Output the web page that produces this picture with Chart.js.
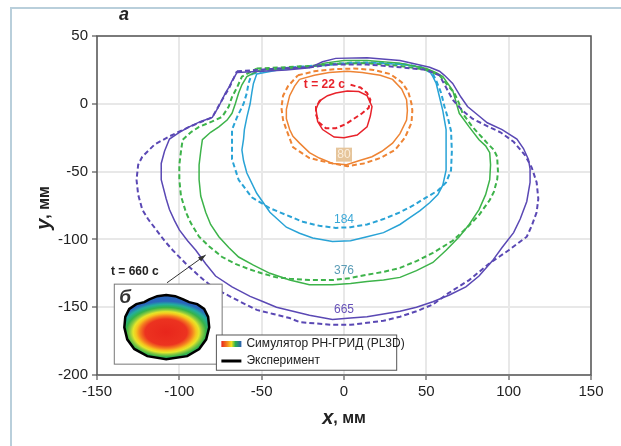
<!DOCTYPE html>
<html>
<head>
<meta charset="utf-8">
<script src="https://cdn.jsdelivr.net/npm/chart.js@4.4.1/dist/chart.umd.min.js"></script>
<style>
  html, body { margin: 0; padding: 0; background: #fff; }
  #wrap { position: relative; width: 621px; height: 446px; }
  #frame {
    position: absolute; left: 10px; top: 7px; right: 0; bottom: 0;
    border-left: 2px solid #b9cfdb; border-top: 2px solid #b9cfdb;
    pointer-events: none;
  }
</style>
</head>
<body>
<div id="wrap">
  <canvas id="contourChart" width="621" height="446"></canvas>
  <div id="frame"></div>
</div>
<script>
// contour outlines, [x mm, y mm]
const exp22 = [[-17,-4],[-15,2],[-10,6],[-5,8],[2,9.5],[9,9],[14,6],[17,-2],[16,-9],[14,-17],[8,-23],[0,-25],[-6,-24.5],[-13,-19],[-16,-13],[-17,-4]];
const sim22 = [[4,14],[10,12],[14,8],[16,3],[15,-3],[11,-7],[6,-11],[1,-15],[-5,-18],[-11,-18],[-15,-14],[-17,-8],[-17,-2],[-14,3]];

const exp80 = [[-27,18],[-18,21],[-9,23],[2,24],[11,23],[22,21],[29.5,18],[35,11],[38,3],[38.5,-5],[38,-12],[34,-22],[29.5,-29],[23,-35],[17,-39],[9,-42],[1.5,-45],[-7,-44],[-15,-40],[-21,-36],[-27,-29],[-31,-24],[-33,-19],[-35,-11],[-35,-4],[-33,6],[-30,13],[-27,18]];
const sim80 = [[-28,21],[-18,24],[-6,25.5],[6,26],[18,25],[28,22],[35,16],[39,9],[41,0],[41.5,-5],[41,-14],[37,-25],[31,-34],[22,-40],[12,-44],[2,-46],[-9,-43.5],[-21,-40],[-31,-32],[-35,-19],[-37,-12],[-38,-3],[-37,6],[-34,13],[-28,21]];

const exp184 = [[-53,22],[-40,25],[-25,27],[-10,28.5],[5,30],[20,30],[35,29],[47,27],[52,24],[54,20],[56,15],[58,5],[60,-5],[62,-19],[62,-35],[62,-49],[60,-60],[57,-67],[52,-73],[46,-79],[40,-84],[34,-89],[24,-95],[14,-98],[4,-101],[-7,-101.5],[-19,-99],[-27,-95.5],[-35,-91],[-45,-80],[-53,-66],[-59,-51],[-61,-42],[-62,-34],[-61,-26],[-60.5,-19],[-59,-10],[-57,0],[-56,8],[-55,15],[-53,22]];
const sim184 = [[-56,22],[-45,25.5],[-25,27.5],[-10,29],[5,30.5],[20,30.5],[35,29.5],[47,27],[54,22],[56,17],[59,8],[61,-2],[63,-10],[65,-20],[65.5,-35],[65,-49],[62,-58],[57,-64],[50,-69],[42,-75],[34,-80],[24,-85],[14,-89],[4,-91],[-5,-91.5],[-15,-90],[-25,-87],[-35,-82],[-45,-77],[-56,-69],[-64,-56],[-68,-41],[-68,-30],[-68,-19],[-65,-10],[-61,0],[-59,8],[-58,15],[-56,22]];

const exp376 = [[-51,25],[-35,26],[-20,27],[-12,30],[0,32],[14,32],[34,30],[50,26],[56,23],[60,20],[66,10],[70,-7],[76,-17],[82,-26.5],[86,-31],[88.5,-36],[89,-45],[88.5,-56],[86,-67],[82,-78],[76,-89],[70,-98],[62,-108],[54,-117],[44,-123],[34,-128],[24,-130],[14,-131],[4,-132.5],[-7,-133.5],[-21,-133.5],[-33,-130],[-45,-125],[-55,-119],[-64,-113],[-70,-106],[-76,-98],[-81,-89],[-84,-80],[-87,-68],[-88,-56],[-88,-45],[-87,-35],[-86,-26.5],[-81,-21],[-76,-17],[-71,-12],[-68,-7],[-66,0],[-64,8],[-62,14],[-59,20],[-51,25]];
const sim376 = [[-53,26],[-35,27],[-20,28],[-7,29.5],[14,30],[34,28],[50,25],[58,21],[62,15],[67,8],[70,0],[72,-7],[78,-17],[87,-29],[91,-34],[93,-39],[93.5,-50],[93,-56],[91,-65],[88.5,-71],[82,-82],[75,-91],[66,-101],[54,-110],[44,-116],[34,-121],[24,-124],[14,-126],[4,-128.5],[-7,-130],[-21,-130],[-33,-129],[-41,-128],[-50,-125],[-57.5,-122],[-66,-118],[-74,-113],[-82,-105],[-88,-98],[-93,-88],[-96,-80],[-99,-68],[-100,-56],[-100,-45],[-99,-35],[-98,-26.5],[-93,-21],[-88,-17],[-80,-13],[-74,-9.6],[-70,-2],[-68,5],[-65,12],[-62,20],[-53,26]];

const exp665 = [[-65,23],[-50,24],[-35,25],[-21,26.5],[-13,31],[-5,33.5],[14,34],[34,32],[52,27],[58,24],[61,21],[66,15],[71,5],[75,-2],[82,-9],[87,-14],[96,-19],[105,-26],[109,-33],[112,-41],[113,-48],[113,-58],[111,-72],[107,-85],[103,-95],[96,-106],[90,-116],[82,-127],[74,-135],[64,-141],[54,-146],[44,-150],[34,-153],[24,-155],[14,-157],[4,-158],[-7,-159],[-21,-156],[-31,-153],[-41,-150],[-49,-146],[-57,-142],[-68,-135],[-78,-127],[-84,-118],[-90,-108],[-95,-101],[-100,-93],[-103,-86],[-106,-78],[-108,-70],[-111,-56],[-111,-44],[-109,-35],[-106,-26],[-100,-21],[-94,-17],[-87,-13],[-80,-10],[-77,-4],[-74,3],[-72,8],[-70,12],[-68,17],[-65,23]];
const sim665 = [[-65,24],[-40,26],[-20,27],[-7,29],[14,29],[34,27],[50,25],[58,21],[62,12],[66,3],[72,-5],[78,-11],[88,-17],[95,-21],[103,-28],[110,-38],[114,-47],[117,-58],[118,-70],[117,-80],[114,-90],[111,-98],[100,-108],[88,-118],[76,-130],[63,-140],[54,-148],[44,-153],[34,-157],[24,-160],[14,-161.5],[4,-163],[-7,-163],[-17,-162],[-27,-161],[-33,-158],[-43,-155],[-53,-152],[-63,-146],[-74,-139],[-81,-134],[-88,-127],[-96,-118],[-104,-108],[-109,-101],[-114,-93],[-119,-85],[-122.5,-78],[-125,-67],[-126,-56],[-125,-45],[-122.5,-39],[-115,-30],[-106,-24],[-94,-17],[-80,-10],[-74,3],[-70,11],[-65,24]];

const xTicks = [-150, -100, -50, 0, 50, 100, 150];
const yTicks = [-200, -150, -100, -50, 0, 50];

// time labels on the curves: text, x, y
const curveLabels = [
  ["80", 0, -37.5, "#fbeedd", "#e6c59b"],
  ["184", 0, -85.5, "#3aa7d6", null],
  ["376", 0, -123, "#5a9cb6", null],
  ["665", 0, -152, "#6651b8", null]
];

const purple = "#5a48b4", green = "#3db34a", cyan = "#29a3d6", orange = "#ee8434", red = "#e8232b";
const NARROW = "'Liberation Sans Narrow', 'Liberation Sans', Arial, sans-serif";
const SANS = "'Liberation Sans', Arial, sans-serif";

function line(pts, color, dashed) {
  return {
    data: pts.map(p => ({ x: p[0], y: p[1] })),
    showLine: true,
    borderColor: color,
    borderWidth: dashed ? 2 : 1.5,
    borderDash: dashed ? [5, 3] : [],
    pointRadius: 0,
    tension: 0,
    fill: false
  };
}

const overlay = {
  id: "overlay",
  afterDatasetsDraw(chart) {
    const { ctx, chartArea: a, scales: { x, y } } = chart;
    ctx.save();
    // plot frame
    ctx.strokeStyle = "#555";
    ctx.lineWidth = 1.5;
    ctx.strokeRect(a.left, a.top, a.right - a.left, a.bottom - a.top);

    // panel letter
    ctx.fillStyle = "#222";
    ctx.font = "italic bold 18px " + SANS;
    ctx.textAlign = "left";
    ctx.textBaseline = "middle";
    ctx.fillText("a", a.left + 22, a.top - 21);

    // curve labels
    ctx.font = "12px " + SANS;
    ctx.textAlign = "center";
    curveLabels.forEach(([t, vx, vy, col, bg]) => {
      const px = x.getPixelForValue(vx), py = y.getPixelForValue(vy);
      if (bg) {
        ctx.fillStyle = bg;
        ctx.fillRect(px - 8, py - 7, 16, 14);
      }
      ctx.fillStyle = col;
      ctx.fillText(t, px, py);
    });
    ctx.fillStyle = red;
    ctx.font = "bold 12px " + SANS;
    ctx.textAlign = "right";
    ctx.fillText("t = 22 с", x.getPixelForValue(0.5), y.getPixelForValue(14));

    // t = 660 c with arrow
    ctx.fillStyle = "#222";
    ctx.font = "bold 12px " + SANS;
    ctx.textAlign = "center";
    ctx.fillText("t = 660 с", x.getPixelForValue(-127), y.getPixelForValue(-124));
    const ax0 = x.getPixelForValue(-107.5), ay0 = y.getPixelForValue(-132);
    const ax1 = x.getPixelForValue(-84), ay1 = y.getPixelForValue(-111.5);
    ctx.strokeStyle = "#333";
    ctx.lineWidth = 1;
    ctx.beginPath(); ctx.moveTo(ax0, ay0); ctx.lineTo(ax1, ay1); ctx.stroke();
    const ang = Math.atan2(ay1 - ay0, ax1 - ax0);
    ctx.beginPath();
    ctx.moveTo(ax1, ay1);
    ctx.lineTo(ax1 - 8 * Math.cos(ang - 0.35), ay1 - 8 * Math.sin(ang - 0.35));
    ctx.lineTo(ax1 - 8 * Math.cos(ang + 0.35), ay1 - 8 * Math.sin(ang + 0.35));
    ctx.closePath();
    ctx.fillStyle = "#333";
    ctx.fill();

    // inset б
    const bx0 = x.getPixelForValue(-139.5), bx1 = x.getPixelForValue(-74);
    const by0 = y.getPixelForValue(-133), by1 = y.getPixelForValue(-192);
    const bw = bx1 - bx0, bh = by1 - by0;
    ctx.fillStyle = "#fff";
    ctx.fillRect(bx0, by0, bw, bh);
    ctx.strokeStyle = "#777";
    ctx.lineWidth = 1;
    ctx.strokeRect(bx0, by0, bw, bh);
    ctx.fillStyle = "#333";
    ctx.font = "italic bold 19px " + SANS;
    ctx.textAlign = "left";
    ctx.fillText("б", bx0 + 5, by0 + 14);
    const blob = [[0.324,0.19],[0.398,0.15],[0.481,0.137],[0.565,0.15],[0.639,0.19],[0.694,0.225],[0.769,0.25],[0.833,0.31],[0.87,0.41],[0.88,0.54],[0.852,0.69],[0.787,0.81],[0.676,0.9],[0.481,0.94],[0.306,0.9],[0.185,0.81],[0.12,0.69],[0.093,0.54],[0.102,0.41],[0.139,0.31],[0.204,0.25],[0.278,0.225]];
    ctx.beginPath();
    blob.forEach(([u, v], i) => {
      const px = bx0 + u * bw, py = by0 + v * bh;
      i ? ctx.lineTo(px, py) : ctx.moveTo(px, py);
    });
    ctx.closePath();
    ctx.save();
    ctx.clip();
    const cx = bx0 + 0.48 * bw, cy = by0 + 0.6 * bh;
    ctx.translate(cx, cy);
    ctx.scale(1, 0.62);
    const g = ctx.createRadialGradient(0, 0, 0, 0, 0, 50);
    g.addColorStop(0, "#e8261c");
    g.addColorStop(0.42, "#ec3320");
    g.addColorStop(0.52, "#f47a20");
    g.addColorStop(0.6, "#f6c51e");
    g.addColorStop(0.66, "#e4e62a");
    g.addColorStop(0.72, "#8fcb3f");
    g.addColorStop(0.8, "#35b34a");
    g.addColorStop(0.9, "#22ae9e");
    g.addColorStop(1, "#2a66bc");
    ctx.fillStyle = g;
    ctx.fillRect(-80, -90, 160, 180);
    ctx.restore();
    ctx.strokeStyle = "#000";
    ctx.lineWidth = 2.5;
    ctx.stroke();

    // legend
    const lx0 = x.getPixelForValue(-77.5), lx1 = x.getPixelForValue(32);
    const ly0 = y.getPixelForValue(-170.5), ly1 = y.getPixelForValue(-196.5);
    ctx.fillStyle = "#fff";
    ctx.fillRect(lx0, ly0, lx1 - lx0, ly1 - ly0);
    ctx.strokeStyle = "#555";
    ctx.lineWidth = 1;
    ctx.strokeRect(lx0, ly0, lx1 - lx0, ly1 - ly0);
    const sg = ctx.createLinearGradient(lx0 + 5, 0, lx0 + 25, 0);
    sg.addColorStop(0, "#e8261c");
    sg.addColorStop(0.3, "#f58a1f");
    sg.addColorStop(0.5, "#f3e21e");
    sg.addColorStop(0.7, "#2bb04d");
    sg.addColorStop(1, "#2a5db4");
    ctx.fillStyle = sg;
    ctx.fillRect(lx0 + 5, ly0 + 6, 20, 6);
    ctx.strokeStyle = "#000";
    ctx.lineWidth = 3;
    ctx.beginPath();
    ctx.moveTo(lx0 + 5, ly0 + 26); ctx.lineTo(lx0 + 25, ly0 + 26);
    ctx.stroke();
    ctx.fillStyle = "#222";
    ctx.font = "12px " + NARROW;
    ctx.textAlign = "left";
    ctx.fillText("Симулятор РН-ГРИД (PL3D)", lx0 + 30, ly0 + 9);
    ctx.fillText("Эксперимент", lx0 + 30, ly0 + 26);

    // axis titles
    ctx.fillStyle = "#222";
    ctx.textAlign = "left";
    const xt = (a.left + a.right) / 2;
    ctx.font = "italic bold 20px " + SANS;
    const w1 = ctx.measureText("x").width;
    ctx.font = "bold 16px " + SANS;
    const w2 = ctx.measureText(", мм").width;
    let sx = xt - (w1 + w2) / 2;
    ctx.font = "italic bold 20px " + SANS;
    ctx.fillText("x", sx, 418);
    ctx.font = "bold 16px " + SANS;
    ctx.fillText(", мм", sx + w1, 419);

    ctx.translate(44, 208);
    ctx.rotate(-Math.PI / 2);
    ctx.font = "italic bold 20px " + SANS;
    const v1 = ctx.measureText("y").width;
    sx = -(v1 + w2) / 2;
    ctx.fillText("y", sx, 0);
    ctx.font = "bold 16px " + SANS;
    ctx.fillText(", мм", sx + v1, 1);
    ctx.restore();
  }
};

new Chart(document.getElementById("contourChart"), {
  type: "scatter",
  data: {
    datasets: [
      line(exp665, purple, false), line(sim665, purple, true),
      line(exp376, green, false), line(sim376, green, true),
      line(exp184, cyan, false), line(sim184, cyan, true),
      line(exp80, orange, false), line(sim80, orange, true),
      line(exp22, red, false), line(sim22, red, true)
    ]
  },
  options: {
    responsive: false,
    animation: false,
    layout: { padding: { top: 36, right: 30, left: 0, bottom: 0 } },
    plugins: { legend: { display: false }, tooltip: { enabled: false } },
    scales: {
      x: {
        type: "linear", min: xTicks[0], max: xTicks[xTicks.length - 1],
        afterBuildTicks: s => { s.ticks = xTicks.map(v => ({ value: v })); },
        afterFit: s => { s.height = 71; },
        ticks: { color: "#222", padding: 3, font: { family: NARROW, size: 15 } },
        grid: { color: "#e8e8e8", lineWidth: 2, tickColor: "#555", tickLength: 5, tickWidth: 1.2 },
        border: { display: false }
      },
      y: {
        type: "linear", min: yTicks[0], max: yTicks[yTicks.length - 1],
        afterBuildTicks: s => { s.ticks = yTicks.map(v => ({ value: v })); },
        afterFit: s => { s.width = 97; },
        ticks: { color: "#222", padding: 4, font: { family: NARROW, size: 15 } },
        grid: { color: "#e8e8e8", lineWidth: 2, tickColor: "#555", tickLength: 5, tickWidth: 1.2 },
        border: { display: false }
      }
    }
  },
  plugins: [overlay]
});
</script>
</body>
</html>
